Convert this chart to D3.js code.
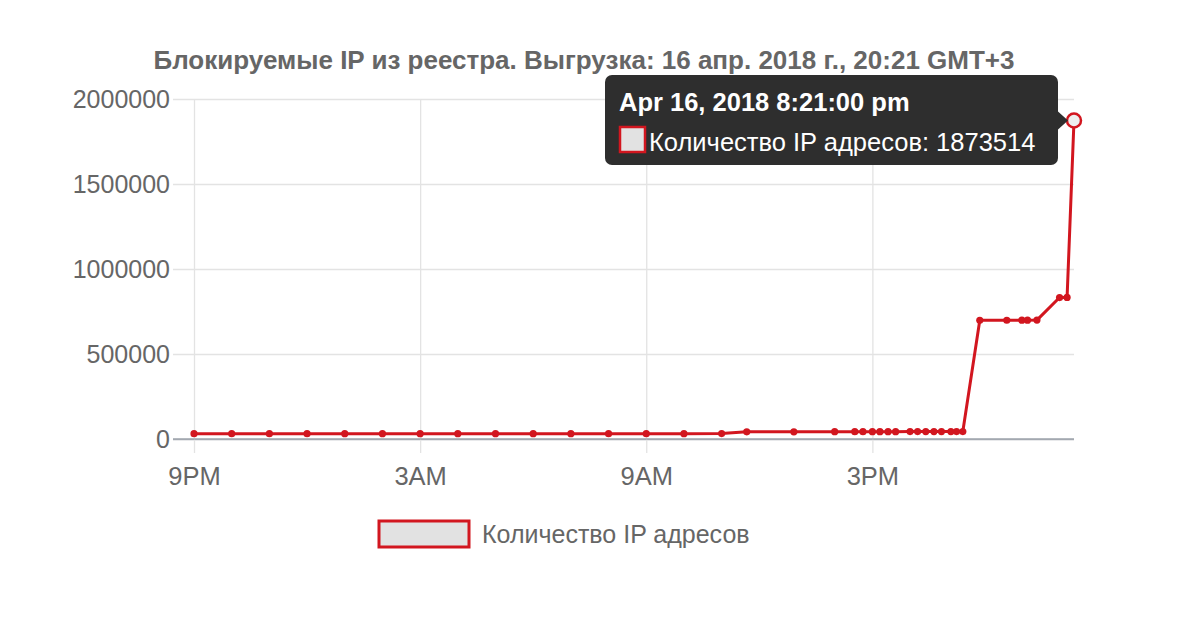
<!DOCTYPE html>
<html>
<head>
<meta charset="utf-8">
<script src="https://cdn.jsdelivr.net/npm/d3@7"></script>
<style>
  body { margin: 0; background: #fff; }
  text { font-family: "Liberation Sans", Arial, Helvetica, sans-serif; }
</style>
</head>
<body>
<svg id="chart" width="1200" height="625"></svg>
<script>
var chartTitle = "Блокируемые IP из реестра. Выгрузка: 16 апр. 2018 г., 20:21 GMT+3";
var seriesName = "Количество IP адресов";

// observation times (local, GMT+3) and registry counts
var times = [
  "2018-04-15T21:00", "2018-04-15T22:00", "2018-04-15T23:00", "2018-04-16T00:00",
  "2018-04-16T01:00", "2018-04-16T02:00", "2018-04-16T03:00", "2018-04-16T04:00",
  "2018-04-16T05:00", "2018-04-16T06:00", "2018-04-16T07:00", "2018-04-16T08:00",
  "2018-04-16T09:00", "2018-04-16T10:00", "2018-04-16T11:00", "2018-04-16T11:40",
  "2018-04-16T12:55", "2018-04-16T14:00", "2018-04-16T14:32", "2018-04-16T14:45",
  "2018-04-16T15:00", "2018-04-16T15:12", "2018-04-16T15:25", "2018-04-16T15:37",
  "2018-04-16T16:00", "2018-04-16T16:12", "2018-04-16T16:25", "2018-04-16T16:38",
  "2018-04-16T16:50", "2018-04-16T17:05", "2018-04-16T17:14", "2018-04-16T17:24",
  "2018-04-16T17:51", "2018-04-16T18:34", "2018-04-16T18:58", "2018-04-16T19:07",
  "2018-04-16T19:22", "2018-04-16T19:58", "2018-04-16T20:10", "2018-04-16T20:21"
];
var counts = [
  31200, 31200, 31250, 31250,
  31300, 31300, 31300, 31350,
  31350, 31400, 31400, 31450,
  31500, 31600, 32000, 42000,
  42500, 43000, 43100, 43100,
  43200, 43200, 43300, 43300,
  43400, 43400, 43500, 43500,
  43600, 43600, 43700, 43700,
  698000, 698500, 699000, 699000,
  699500, 832000, 833000, 1873514
];

var yTicks = [0, 500000, 1000000, 1500000, 2000000];
var xTicks = ["2018-04-15T21:00", "2018-04-16T03:00", "2018-04-16T09:00", "2018-04-16T15:00"];
var tooltipTitle = "Apr 16, 2018 8:21:00 pm";

var parseTime = d3.timeParse("%Y-%m-%dT%H:%M");
var data = times.map(function(t, i) { return {date: parseTime(t), value: counts[i]}; });

var svg = d3.select("#chart");
var lineColor = "#d2161f";
var textColor = "#666";

var x = d3.scaleTime()
  .domain(d3.extent(data, (d) => d.date))
  .range([194, 1074]);
var y = d3.scaleLinear()
  .domain([0, 2000000])
  .range([439, 99]);

// title
svg.append("text")
  .attr("x", 584)
  .attr("y", 69)
  .attr("text-anchor", "middle")
  .attr("font-size", 26)
  .attr("font-weight", "bold")
  .attr("fill", textColor)
  .text(chartTitle);

// y axis: gridlines + labels
var yAxis = d3.axisLeft(y)
  .tickValues(yTicks)
  .tickSize(0)
  .tickFormat(d3.format("d"));

var gy = svg.append("g")
  .attr("transform", "translate(" + (x.range()[1]) + ",0)")
  .call(yAxis);
gy.select(".domain").remove();
gy.selectAll(".tick line")
  .attr("x1", 0)
  .attr("x2", -(x.range()[1] - 173))
  .attr("stroke", (d) => d === 0 ? "#a3a9b0" : "#e3e3e3")
  .attr("stroke-width", 1.3);
gy.selectAll(".tick text")
  .attr("x", -(x.range()[1] - 170))
  .attr("font-size", 25)
  .attr("fill", textColor);

// x axis: vertical gridlines + labels
var xAxis = d3.axisBottom(x)
  .tickValues(xTicks.map(parseTime))
  .tickFormat(d3.timeFormat("%-I%p"));

var gx = svg.append("g")
  .attr("transform", "translate(0," + y(0) + ")")
  .call(xAxis);
gx.select(".domain").remove();
gx.selectAll(".tick line")
  .attr("y1", y(2000000) - y(0))
  .attr("y2", 14)
  .attr("stroke", "#e3e3e3")
  .attr("stroke-width", 1.3);
gx.selectAll(".tick text")
  .attr("y", 28)
  .attr("font-size", 25.5)
  .attr("fill", textColor);

// keep the zero line on top of vertical grid
svg.append("line")
  .attr("x1", 173).attr("x2", x.range()[1])
  .attr("y1", y(0)).attr("y2", y(0))
  .attr("stroke", "#a3a9b0")
  .attr("stroke-width", 1.3);

// series line
var line = d3.line()
  .x((d) => x(d.date))
  .y((d) => y(d.value));

svg.append("path")
  .datum(data)
  .attr("fill", "none")
  .attr("stroke", lineColor)
  .attr("stroke-width", 3)
  .attr("stroke-linejoin", "round")
  .attr("d", line);

svg.selectAll(".pt")
  .data(data.slice(0, -1))
  .enter().append("circle")
    .attr("class", "pt")
    .attr("cx", (d) => x(d.date))
    .attr("cy", (d) => y(d.value))
    .attr("r", 3.6)
    .attr("fill", lineColor);

// hovered last point
var last = data[data.length - 1];
svg.append("circle")
  .attr("cx", x(last.date))
  .attr("cy", y(last.value))
  .attr("r", 7)
  .attr("fill", "#eee")
  .attr("stroke", lineColor)
  .attr("stroke-width", 2.5);

// tooltip
var tip = svg.append("g");
var tipRight = x(last.date) - 16;
tip.append("rect")
  .attr("x", 605)
  .attr("y", 75)
  .attr("width", tipRight - 605)
  .attr("height", 90)
  .attr("rx", 7)
  .attr("fill", "#2e2e2e");
tip.append("path")
  .attr("d", "M" + tipRight + "," + (y(last.value) - 9) +
             "L" + (tipRight + 10) + "," + y(last.value) +
             "L" + tipRight + "," + (y(last.value) + 9) + "Z")
  .attr("fill", "#2e2e2e");
tip.append("text")
  .attr("x", 619)
  .attr("y", 111)
  .attr("font-size", 25.5)
  .attr("font-weight", "bold")
  .attr("fill", "#fff")
  .text(tooltipTitle);
tip.append("rect")
  .attr("x", 620)
  .attr("y", 127)
  .attr("width", 25)
  .attr("height", 25)
  .attr("fill", "#e2e2e2")
  .attr("stroke", lineColor)
  .attr("stroke-width", 2.5);
tip.append("text")
  .attr("x", 649)
  .attr("y", 151)
  .attr("font-size", 25.5)
  .attr("fill", "#fff")
  .text(seriesName + ": " + last.value);

// legend
var legend = svg.append("g");
legend.append("rect")
  .attr("x", 379)
  .attr("y", 521)
  .attr("width", 90)
  .attr("height", 26)
  .attr("fill", "#e2e2e2")
  .attr("stroke", lineColor)
  .attr("stroke-width", 3);
legend.append("text")
  .attr("x", 482)
  .attr("y", 543)
  .attr("font-size", 25)
  .attr("fill", textColor)
  .text(seriesName);
</script>
</body>
</html>
